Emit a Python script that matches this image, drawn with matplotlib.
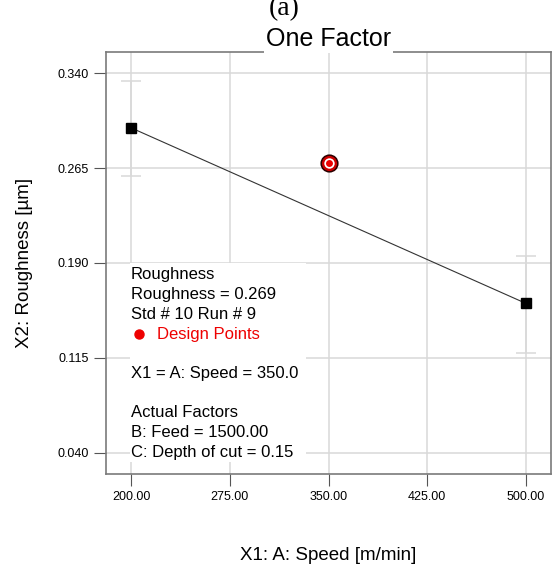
import matplotlib

matplotlib.use("Agg")
import matplotlib.pyplot as plt
from matplotlib.patches import Rectangle

# factor levels and model prediction
speed = [200.0, 500.0]
roughness_pred = [0.297, 0.158]
ci_low = [0.2586, 0.1190]
ci_high = [0.3344, 0.1956]

# selected design point
design_speed = [350.0]
design_roughness = [0.269]
std_no = 10
run_no = 9
feed = 1500.00
depth_of_cut = 0.15

x_ticks = [200, 275, 350, 425, 500]
y_ticks = [0.040, 0.115, 0.190, 0.265, 0.340]

plt.rcParams["font.family"] = ["Liberation Sans", "DejaVu Sans"]

W, H = 554, 567
fig = plt.figure(figsize=(W / 100, H / 100), dpi=100)
ax = fig.add_axes([106 / W, 1 - 474 / H, 445 / W, 422 / H])

ax.set_xlim(181, 519)
ax.set_ylim(0.023, 0.357)
ax.set_axisbelow(True)
ax.grid(True, color="#d9d9d9", linewidth=1.1)

yerr = [[p - lo for p, lo in zip(roughness_pred, ci_low)], [hi - p for p, hi in zip(roughness_pred, ci_high)]]
eb = ax.errorbar(speed, roughness_pred, yerr=yerr, fmt="none", ecolor="#d9d9d9", elinewidth=1.1, capsize=7.2, capthick=1.1, zorder=2)
for cap in eb[1]:
    cap.set_color("#ababab")
ax.plot(speed, roughness_pred, color="#333333", linewidth=0.8, zorder=3)
ax.plot(speed, roughness_pred, "s", color="black", markersize=6.5, zorder=4)

# design point: red disc with dark rim, white ring, red core
ax.plot(design_speed, design_roughness, "o", markersize=12, markerfacecolor="#cc0000", markeredgecolor="#2a0000", markeredgewidth=1.1, zorder=5)
ax.plot(design_speed, design_roughness, "o", markersize=7.5, markerfacecolor="white", markeredgecolor="none", zorder=6)
ax.plot(design_speed, design_roughness, "o", markersize=5.0, markerfacecolor="#ee0000", markeredgecolor="none", zorder=7)

ax.set_xticks(x_ticks)
ax.set_xticklabels([f"{v:.2f}" for v in x_ticks])
ax.set_yticks(y_ticks)
ax.set_yticklabels([f"{v:.3f}" for v in y_ticks])
ax.tick_params(axis="both", direction="out", length=8.6, width=0.8, color="#555555", labelsize=9, pad=3.5)

for spine in ax.spines.values():
    spine.set_color("#7a7a7a")
    spine.set_linewidth(1.2)

ax.set_title("One Factor", fontsize=18, pad=4, bbox=dict(facecolor="white", edgecolor="none", pad=1.0))
ax.set_xlabel("X1: A: Speed [m/min]", fontsize=13.5)
ax.xaxis.set_label_coords(0.5, (474 - 547) / 422)
ax.set_ylabel("X2: Roughness [µm]", fontsize=13.5)
ax.yaxis.set_label_coords((33 - 106) / 445, 0.5)

fig.text(284 / W, 1 - 15 / H, "(a)", family="Liberation Serif", fontsize=20, ha="center", va="baseline")

# info box in the lower left
ax.add_patch(Rectangle((24 / 445, 12 / 422), 176 / 445, 199 / 422, transform=ax.transAxes, facecolor="white", edgecolor="none", zorder=1))
lines = [
    "Roughness",
    f"Roughness = {design_roughness[0]:.3f}",
    f"Std # {std_no} Run # {run_no}",
    None,
    "",
    f"X1 = A: Speed = {design_speed[0]:.1f}",
    "",
    "Actual Factors",
    f"B: Feed = {feed:.2f}",
    f"C: Depth of cut = {depth_of_cut:.2f}",
]
step = 19.67 / 422
top = (474 - 275) / 422
for i, line in enumerate(lines):
    y = top - i * step
    if line is None:
        ax.plot([33 / 445], [y], "o", color="#ee0000", markersize=6.5, transform=ax.transAxes, zorder=8)
        ax.text(51 / 445, y, "Design Points", color="#ee0000", fontsize=12, va="center", ha="left", transform=ax.transAxes, zorder=8)
    elif line:
        ax.text(25 / 445, y, line, color="black", fontsize=12, va="center", ha="left", transform=ax.transAxes, zorder=8)

fig.savefig("out.png", dpi=100)
